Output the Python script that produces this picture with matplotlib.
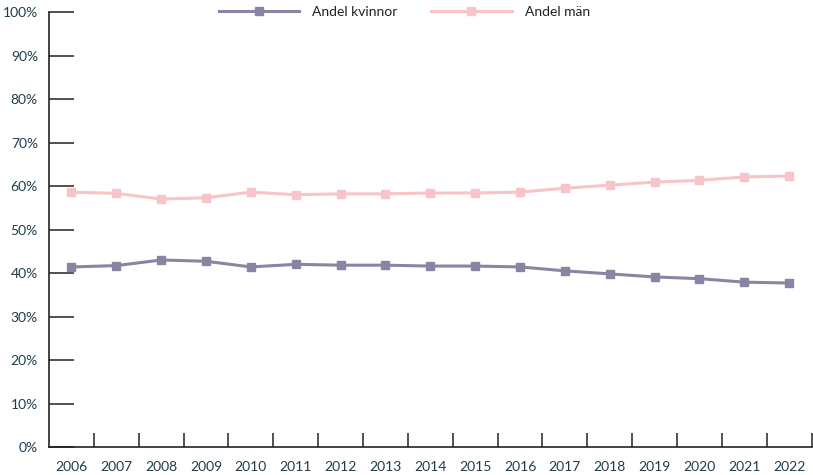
import numpy as np
import matplotlib
matplotlib.use("Agg")
import matplotlib.pyplot as plt

# Data
years = [str(y) for y in range(2006, 2023)]
andel_man = [58.6, 58.3, 57.0, 57.3, 58.6, 58.0, 58.2, 58.2, 58.4, 58.4,
             58.6, 59.5, 60.2, 60.9, 61.3, 62.1, 62.3]
andel_kvinnor = [41.4, 41.7, 43.0, 42.7, 41.4, 42.0, 41.8, 41.8, 41.6, 41.6,
                 41.4, 40.5, 39.8, 39.1, 38.7, 37.9, 37.7]

col_kv = "#8a84a3"
col_man = "#f7c4c7"
txt = "#1e3d4c"

plt.rcParams["font.family"] = ["Lato", "DejaVu Sans"]

fig = plt.figure(figsize=(8.13, 4.75), dpi=100)
ax = fig.add_axes([0.0603, 0.0589, 0.938, 0.9158])

x = np.arange(len(years))
ax.plot(x, andel_kvinnor, color=col_kv, lw=2.2, marker="s", ms=6,
        label="Andel kvinnor")
ax.plot(x, andel_man, color=col_man, lw=2.2, marker="s", ms=6,
        label="Andel män")

ax.set_xlim(-0.5, len(years) - 0.5)
ax.set_ylim(0, 100)

ax.set_yticks(range(0, 101, 10))
ax.set_yticklabels([f"{v}%" for v in range(0, 101, 10)], color=txt, fontsize=10)
ax.tick_params(axis="y", direction="in", length=18, width=1.2, color="#333333", pad=8)

# category labels in the middle, ticks on the boundaries
ax.set_xticks(x)
ax.set_xticklabels(years, color=txt, fontsize=10)
ax.tick_params(axis="x", which="major", length=0, pad=10)
ax.set_xticks(np.arange(0.5, len(years), 1.0), minor=True)
ax.tick_params(axis="x", which="minor", direction="in", length=10, width=1.2, color="#333333")

for s in ["top", "right"]:
    ax.spines[s].set_visible(False)
ax.spines["left"].set_color("#222222")
ax.spines["bottom"].set_color("#222222")
ax.spines["left"].set_linewidth(1.2)
ax.spines["bottom"].set_linewidth(1.2)

leg = ax.legend(loc="center", bbox_to_anchor=(0.466, 1.0), ncol=2, frameon=False,
                fontsize=10, handlelength=5.8, columnspacing=2.4, handletextpad=0.95)
for t in leg.get_texts():
    t.set_color("#222222")

fig.savefig("out.png", dpi=100)
